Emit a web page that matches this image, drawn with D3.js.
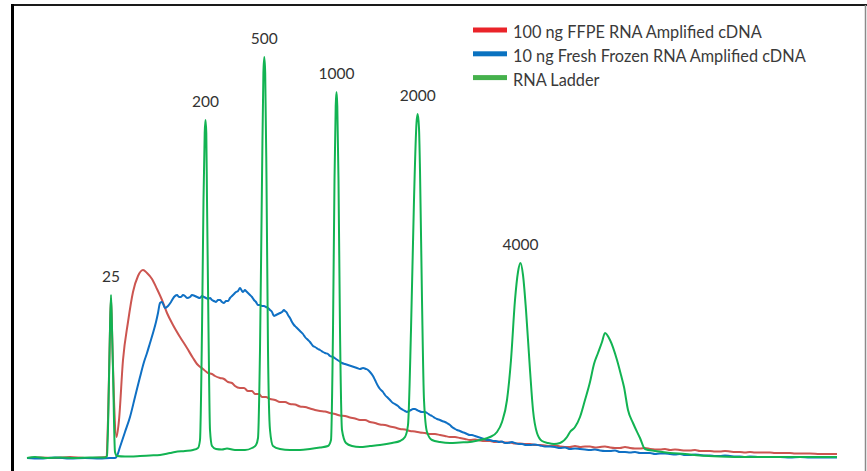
<!DOCTYPE html>
<html>
<head>
<meta charset="utf-8">
<script src="https://cdn.jsdelivr.net/npm/d3@7"></script>
<style>
  body { margin: 0; background: #fff; }
  svg { display: block; font-family: Lato, "Open Sans", sans-serif; }
</style>
</head>
<body>
<div id="chart"></div>
<script>
var width = 867,
height = 471;

// migration units (x) vs fluorescence units (y)
var ffpe = [[0,0],[13,0.5],[28,0],[43,1],[58,0],[73,0.5],[79,1],[81,38],[83,128],[84,160],[85,128],[87,58],[89.5,21],[92,38],[96,98],
    [101,136],[106,166],[111,182],[116,188],[120,185],[125,179],[130,169],[135,158],[140,145],[146,133],[153,121],[160,110],[166,100],
    [170,94],[176,89],[181,85],[185,84],[188,82],[193,80],[197,79],[201,76],[205,75],[208,72],[213,70],[217,70],[221,67],[225,67],[228,64],
    [232,64],[235,61],[239,61],[243,59],[248,58],[253,56],[258,56],[263,54],[268,53.5],[273,51.5],[278,51],[283,49.5],[288,48],[293,47],
    [298,46.5],[303,45],[308,44],[313,42.5],[318,42],[323,40.5],[328,39.5],[333,38],[338,38],[343,36],[348,35],[353,33.5],[358,33],[363,31.5],
    [368,30.5],[373,29],[378,28.5],[383,27],[388,26.5],[393,25.5],[398,25],[403,24],[408,24],[413,23],[418,22],[423,21],[428,21],[433,20],
    [438,19],[443,18],[448,18.5],[453,17.5],[458,17],[463,17],[468,16],[473,16.5],[478,15.5],[483,15.5],[488,14.5],[493,14.5],[498,14],[503,14],
    [508,13],[513,13],[518,12.5],[523,12],[528,12.5],[533,11.5],[538,11],[543,11],[548,12],[553,11],[558,11.5],[563,11.5],[568,10.5],[573,11],
    [578,11.5],[583,10.5],[588,10],[593,10],[598,11],[603,10],[608,9.5],[613,9.5],[618,10],[623,9],[628,8.5],[633,8.5],[638,9],[643,8],
    [648,8.5],[653,8],[658,7.5],[663,7.5],[668,8],[673,7],[678,7],[683,7],[688,6.5],[693,6.5],[698,7],[703,6.5],[708,6],[713,6],[718,5.5],
    [723,6],[728,5.5],[733,5.5],[738,5.5],[743,5.5],[748,5],[753,5],[758,5],[763,5],[768,4.5],[773,4.5],[778,4.5],[783,4.5],[793,4],[810,4]];

var fresh = [[0,0],[13,-0.5],[28,0.5],[43,-0.5],[58,0],[73,-0.5],[83,0],[88,0],[90,2],[93,11],[98,26],[103,41],[108,61],[113,81],[117,96],
    [120,105],[123,115],[126,125],[129,136],[131,145],[133,155],[135,156],[138,150],[141,152],[144,156],[147,161],[150,163],[152,161],[154,161],
    [156,163],[158,162],[160,160],[163,161],[165,163],[168,162],[170,161],[173,160],[175,162],[177,161],[179,160],[181,159],[183,160],[185,158],
    [187,157],[189,156],[191,158],[193,158],[195,156],[197,155],[199,157],[201,157],[203,160],[205,162],[207,164],[209,166],[211,167],[213,170],
    [215,167],[216,166],[218,168],[219,167],[221,165],[223,163],[225,161],[227,158],[229,156],[231,153],[233,153],[235,152],[237,152],[239,151],
    [241,150],[243,148],[245,146],[247,142],[249,143],[251,144],[253,145],[255,146],[257,148],[258,147],[260,145],[261,143],[263,140],[265,136],
    [267,133],[269,131],[271,129],[273,127],[276,124],[278,121],[281,118],[283,116],[286,112],[288,111],[291,109],[293,108],[296,106],[298,105],
    [301,104],[303,102],[306,101],[309,99],[312,97],[315,95],[318,94],[321,93],[324,92],[327,91],[330,90],[333,89],[336,90],[339,89],[341,88],
    [343,86],[346,82],[348,78],[351,72],[353,69],[356,66],[358,63],[361,60],[363,58],[366,55],[368,54],[371,52],[373,50],[376,48],[378,47],
    [380,46],[382,47],[384,48],[386,49],[388,49],[390,48],[392,47],[395,46],[398,46],[400,45],[403,43],[405,42],[408,40],[410,39],[413,38],
    [415,37],[418,36],[420,35],[423,33],[425,31],[428,29],[430,28],[433,27],[435,26],[438,25],[440,24],[443,23],[445,23],[448,22],[451,21],
    [454,20],[457,19],[460,18],[463,18],[466,17],[469,17],[472,16],[475,16.5],[478,15],[481,15],[485,16],[488,15],[492,14],[495,14],[499,13],
    [503,13],[508,13.5],[513,12.5],[518,11.5],[523,11.5],[528,11],[533,10],[538,10.5],[543,9],[548,9.5],[553,9],[558,8.5],[563,8],[568,8.5],
    [573,7.5],[578,7],[583,7],[588,7.5],[593,6],[598,6],[603,5.5],[608,6],[613,5],[618,5],[623,5],[628,4],[633,4.5],[638,4.5],[643,4],[648,3.5],
    [653,4],[658,3],[663,3],[668,3.5],[673,3],[678,2.5],[683,2.5],[688,2],[693,2],[698,2.5],[703,2],[708,1.5],[713,1.5],[718,1],[723,1.5],
    [733,1],[743,1],[753,1],[763,0.5],[773,1],[783,0.5],[810,0.5]];

var ladder = [[0,0],[8,1],[18,0],[33,0.5],[48,0],[63,0.5],[78,0.5],[80,2],[82,78],[83,130],[84,163],[85,130],[86,88],[88,6],[90,2],[98,1.5],
    [113,2],[123,2.5],[133,3],[143,5],[148,6],[158,7],[166,8],[171,10],[173,18],[175,128],[176.5,258],[177.7,325],[178.5,338],[179.3,325],
    [180,258],[181.5,128],[183,28],[185,12],[189,9],[195,8.5],[200,9.5],[208,8],[218,8],[225,10],[229,13],[231,20],[233,108],[235,278],
    [236.4,385],[237.3,401],[238.2,385],[239.5,278],[241,108],[243,28],[246,12],[253,9],[263,8],[273,8],[283,9],[293,10.5],[301,12],[304,18],
    [306,128],[307.5,278],[308.7,352],[309.5,366],[310.3,352],[311.5,278],[313,128],[315,28],[319,15],[325,12],[333,11],[343,12],[353,13],
    [365,15],[373,17],[378,21],[381,33],[384,128],[387,258],[389.5,335],[390.7,344],[392,330],[393,288],[395,158],[397,58],[400,26],[405,18],
    [413,16],[423,15],[433,15.5],[443,16],[453,18],[463,21],[470,26],[475,36],[480,58],[484,98],[488,158],[491,186],[493.5,195],[496,183],
    [499,148],[503,88],[506,48],[510,25],[515,17],[521,15],[527,14],[533,15],[540,21],[543,26],[548,31],[553,41],[558,58],[563,76],[567,94],
    [571,105],[575,116],[578,125],[583,118],[590,98],[594,83],[597,71],[601,48],[606,35],[613,20],[618,9],[628,7],[643,5],[658,4],[673,2.5],
    [693,1.5],[723,1],[763,1],[810,1]];

var ladderSizes = ["25", "200", "500", "1000", "2000", "4000"];
var ladderPeakX = [84, 178.5, 237.3, 309.5, 390.7, 493.5];

var seriesNames = ["100 ng FFPE RNA Amplified cDNA", "10 ng Fresh Frozen RNA Amplified cDNA", "RNA Ladder"];
var lineColors = ["#cc5550", "#0f70c4", "#12b352"];
var keyColors = ["#ea2329", "#0a72c0", "#45b14c"];

var svg = d3.select("#chart").append("svg")
    .attr("width", width)
    .attr("height", height);

var xScale = d3.scaleLinear().domain([0, 810]).range([27, 837]);
var yScale = d3.scaleLinear().domain([0, 400]).range([458, 58]);

// frame, only top / left / right are drawn in the original
svg.append("line").attr("x1", 11).attr("x2", width).attr("y1", 5).attr("y2", 5)
    .attr("stroke", "#1a1a1a").attr("stroke-width", 2);
svg.append("line").attr("x1", 12.5).attr("x2", 12.5).attr("y1", 4).attr("y2", height)
    .attr("stroke", "#000").attr("stroke-width", 3);
svg.append("line").attr("x1", 865.5).attr("x2", 865.5).attr("y1", 5).attr("y2", height)
    .attr("stroke", "#8a8a8a").attr("stroke-width", 1.5);

var line = d3.line()
    .x(function(d) { return xScale(d[0]); })
    .y(function(d) { return yScale(d[1]); })
    .curve(d3.curveMonotoneX);

[ffpe, fresh, ladder].forEach(function(s, i) {
    svg.append("path")
        .datum(s)
        .attr("fill", "none")
        .attr("stroke", lineColors[i])
        .attr("stroke-width", 2)
        .attr("stroke-linejoin", "round")
        .attr("d", line);
});

// size labels above the ladder peaks
var peakY = function(px) {
    var best = 0;
    ladder.forEach(function(p) { if (Math.abs(p[0] - px) < 1.5 && p[1] > best) best = p[1]; });
    return best;
};
svg.selectAll(".size").data(ladderSizes).enter()
    .append("text")
    .attr("class", "size")
    .attr("x", function(d, i) { return xScale(ladderPeakX[i]); })
    .attr("y", function(d, i) { return yScale(peakY(ladderPeakX[i])) - 13; })
    .attr("text-anchor", "middle")
    .attr("font-size", "15.5px")
    .attr("fill", "#333")
    .text(function(d) { return d; });

// legend
var key = svg.append("g").attr("transform", "translate(473,30)");
seriesNames.forEach(function(name, i) {
    var row = key.append("g").attr("transform", "translate(0," + (i * 23.8) + ")");
    row.append("rect").attr("x", 0).attr("y", -2.5).attr("width", 34).attr("height", 5)
        .attr("fill", keyColors[i]);
    row.append("text").attr("x", 40).attr("y", 8.3)
        .attr("font-size", "16.3px")
        .attr("fill", "#3a3a3a")
        .text(name);
});
</script>
</body>
</html>
